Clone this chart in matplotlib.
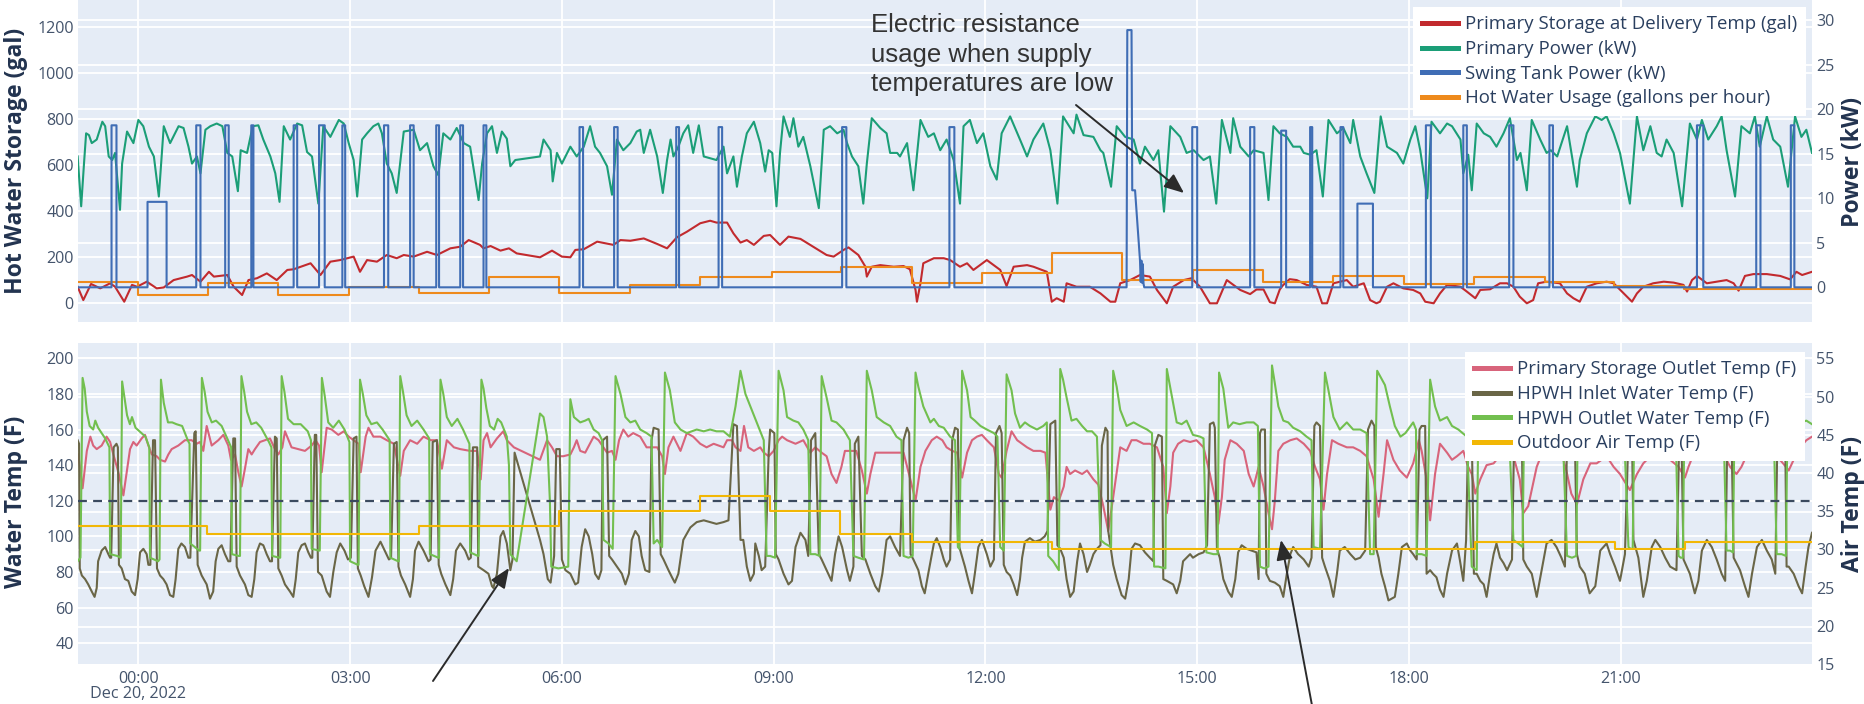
import matplotlib
matplotlib.use("Agg")
import matplotlib.pyplot as plt
from matplotlib.lines import Line2D
from matplotlib.patches import FancyArrowPatch

# ------------------------------------------------------------------
# Data: time in hours relative to 00:00, Dec 20 2022
# ------------------------------------------------------------------

# Primary storage volume at delivery temperature (gal)
storage_gal = [
    (-0.86, 72), (-0.78, 14), (-0.67, 84), (-0.54, 65), (-0.40, 87), (-0.33, 72), (-0.20, 7), (-0.09, 80),
    (-0.02, 72), (0.12, 94), (0.26, 65), (0.36, 69), (0.50, 101), (0.69, 116), (0.76, 123), (0.88, 94),
    (1.00, 137), (1.07, 116), (1.26, 123), (1.35, 72), (1.47, 36), (1.56, 101), (1.68, 109), (1.82, 130),
    (1.96, 101), (2.11, 145), (2.20, 148), (2.44, 174), (2.58, 123), (2.72, 181), (2.86, 188), (2.96, 196),
    (3.05, 203), (3.14, 137), (3.24, 188), (3.38, 181), (3.52, 210), (3.66, 196), (3.76, 210), (3.90, 203),
    (4.09, 224), (4.23, 210), (4.42, 239), (4.56, 246), (4.68, 275), (4.84, 254), (4.89, 239), (4.99, 249),
    (5.13, 229), (5.25, 239), (5.36, 217), (5.69, 200), (5.86, 229), (6.00, 203), (6.12, 200), (6.19, 232),
    (6.31, 235), (6.50, 268), (6.73, 254), (6.83, 275), (6.97, 272), (7.16, 282), (7.35, 258), (7.49, 239),
    (7.63, 287), (7.77, 311), (7.96, 348), (8.10, 359), (8.19, 351), (8.34, 351), (8.43, 304), (8.53, 264),
    (8.62, 275), (8.72, 254), (8.86, 293), (8.95, 297), (9.09, 254), (9.21, 290), (9.38, 280), (9.56, 246),
    (9.75, 210), (9.85, 203), (9.99, 232), (10.06, 243), (10.20, 210), (10.30, 159), (10.32, 116), (10.39, 159),
    (10.51, 166), (10.70, 159), (10.84, 162), (10.93, 148), (11.01, 58), (11.03, 7), (11.08, 87), (11.12, 174),
    (11.27, 196), (11.41, 196), (11.50, 188), (11.64, 159), (11.74, 174), (11.83, 145), (12.02, 188), (12.21, 145),
    (12.30, 75), (12.40, 159), (12.59, 166), (12.68, 159), (12.87, 137), (12.94, 7), (13.01, 22), (13.11, 7),
    (13.15, 87), (13.29, 72), (13.48, 72), (13.63, 43), (13.77, 7), (13.84, 7), (13.91, 87), (14.05, 101),
    (14.19, 123), (14.33, 116), (14.43, 58), (14.57, 0), (14.66, 72), (14.81, 101), (14.92, 109), (15.04, 72),
    (15.18, 0), (15.28, 0), (15.42, 101), (15.61, 58), (15.75, 40), (15.84, 60), (15.94, 60), (16.03, 5),
    (16.10, 0), (16.17, 60), (16.22, 80), (16.31, 105), (16.41, 101), (16.55, 80), (16.69, 72), (16.77, 0),
    (16.84, 0), (16.93, 87), (17.12, 101), (17.21, 72), (17.36, 87), (17.45, 14), (17.54, 0), (17.59, 7),
    (17.69, 72), (17.78, 87), (17.92, 65), (18.06, 58), (18.16, 43), (18.23, 7), (18.35, 0), (18.44, 43),
    (18.54, 80), (18.73, 72), (18.82, 51), (18.94, 22), (19.01, 58), (19.15, 61), (19.29, 87), (19.39, 87),
    (19.48, 72), (19.57, 29), (19.67, 0), (19.76, 14), (19.83, 87), (19.95, 94), (20.14, 87), (20.24, 43),
    (20.33, 22), (20.42, 7), (20.52, 72), (20.66, 87), (20.80, 94), (20.90, 87), (21.09, 29), (21.16, 7),
    (21.23, 43), (21.32, 72), (21.46, 87), (21.61, 94), (21.75, 90), (21.89, 80), (21.94, 51), (22.01, 101),
    (22.08, 119), (22.22, 87), (22.36, 94), (22.50, 101), (22.60, 87), (22.67, 55), (22.76, 119), (22.88, 127),
    (23.07, 127), (23.26, 119), (23.40, 104), (23.49, 137), (23.57, 123), (23.71, 137),
]

# Primary heat pump power (kW)
primary_kw = [
    (-0.86, 14.7), (-0.81, 9.1), (-0.77, 13.9), (-0.74, 17.3), (-0.70, 17.1), (-0.66, 16.2), (-0.59, 16.6),
    (-0.51, 18.6), (-0.47, 18.1), (-0.42, 14.7), (-0.37, 14.3), (-0.33, 15.1), (-0.26, 8.7), (-0.23, 13.9),
    (-0.16, 17.5), (-0.07, 16.2), (0.00, 18.8), (0.07, 18.1), (0.15, 15.8), (0.22, 14.7), (0.29, 10.2),
    (0.36, 18.1), (0.45, 16.2), (0.57, 18.1), (0.64, 17.9), (0.71, 15.8), (0.76, 13.9), (0.83, 14.7),
    (0.88, 12.8), (0.95, 17.7), (1.02, 18.1), (1.11, 18.4), (1.19, 18.1), (1.26, 15.1), (1.33, 14.7),
    (1.41, 10.8), (1.45, 15.4), (1.54, 15.1), (1.62, 18.1), (1.70, 18.2), (1.77, 16.6), (1.87, 14.7),
    (1.94, 12.8), (2.00, 9.6), (2.06, 18.1), (2.15, 16.6), (2.25, 18.4), (2.32, 18.2), (2.39, 15.2),
    (2.46, 14.7), (2.55, 9.4), (2.62, 18.1), (2.72, 16.9), (2.84, 18.8), (2.91, 18.4), (2.98, 16.2),
    (3.05, 14.3), (3.10, 10.2), (3.17, 16.6), (3.24, 17.3), (3.33, 18.1), (3.40, 18.4), (3.45, 17.3),
    (3.52, 13.9), (3.59, 12.8), (3.66, 10.6), (3.76, 17.5), (3.90, 17.7), (3.99, 15.4), (4.09, 16.2),
    (4.18, 13.6), (4.25, 12.6), (4.32, 17.3), (4.42, 16.6), (4.51, 17.9), (4.61, 16.2), (4.70, 15.8),
    (4.82, 9.8), (4.87, 13.9), (4.94, 17.3), (5.01, 18.1), (5.08, 15.1), (5.15, 17.5), (5.22, 16.7),
    (5.27, 13.6), (5.34, 14.3), (5.69, 14.7), (5.74, 16.6), (5.84, 15.4), (5.87, 11.9), (5.93, 15.1),
    (6.00, 13.9), (6.12, 15.8), (6.21, 14.7), (6.31, 15.8), (6.40, 18.1), (6.47, 15.8), (6.54, 15.1),
    (6.64, 13.6), (6.71, 10.4), (6.78, 16.6), (6.87, 15.4), (6.97, 16.2), (7.06, 17.5), (7.11, 17.7),
    (7.16, 15.1), (7.25, 17.7), (7.35, 14.7), (7.43, 10.6), (7.49, 14.3), (7.54, 16.6), (7.58, 14.7),
    (7.65, 15.8), (7.72, 17.3), (7.79, 18.2), (7.86, 15.1), (7.94, 18.2), (8.01, 14.7), (8.19, 14.3),
    (8.29, 15.8), (8.34, 12.8), (8.43, 14.7), (8.48, 11.3), (8.55, 14.7), (8.62, 17.3), (8.72, 18.6),
    (8.81, 16.2), (8.88, 13.0), (8.93, 15.4), (8.98, 15.1), (9.04, 9.1), (9.09, 15.1), (9.14, 19.2),
    (9.23, 16.9), (9.28, 19.0), (9.35, 15.8), (9.42, 16.9), (9.52, 13.6), (9.64, 8.9), (9.71, 17.7),
    (9.80, 18.1), (9.90, 17.3), (9.99, 17.7), (10.04, 16.2), (10.11, 14.7), (10.20, 13.6), (10.27, 9.4),
    (10.32, 13.9), (10.39, 19.0), (10.51, 17.9), (10.60, 17.3), (10.65, 15.1), (10.75, 15.1), (10.79, 14.7),
    (10.89, 16.2), (10.98, 10.9), (11.08, 18.8), (11.19, 16.9), (11.27, 17.3), (11.36, 15.4), (11.45, 16.6),
    (11.55, 14.3), (11.64, 9.4), (11.69, 18.1), (11.78, 18.8), (11.88, 16.2), (11.97, 17.3), (12.07, 13.6),
    (12.16, 12.1), (12.23, 17.3), (12.35, 19.2), (12.49, 16.6), (12.59, 14.7), (12.68, 16.6), (12.82, 18.4),
    (12.92, 15.4), (13.02, 9.4), (13.10, 19.2), (13.25, 17.3), (13.29, 19.4), (13.39, 17.1), (13.53, 16.9),
    (13.63, 15.4), (13.67, 15.1), (13.78, 11.3), (13.86, 18.1), (13.98, 16.9), (14.10, 16.6), (14.19, 13.9),
    (14.26, 15.8), (14.38, 14.3), (14.45, 15.4), (14.53, 8.5), (14.62, 18.1), (14.76, 16.9), (14.85, 15.1),
    (14.95, 15.4), (15.09, 14.3), (15.18, 14.7), (15.27, 9.4), (15.35, 18.8), (15.47, 15.1), (15.51, 19.0),
    (15.61, 15.8), (15.73, 14.7), (15.80, 15.4), (15.94, 15.1), (16.01, 9.8), (16.08, 18.1), (16.17, 17.3),
    (16.27, 16.9), (16.36, 15.8), (16.46, 15.8), (16.51, 15.1), (16.60, 14.9), (16.69, 15.4), (16.78, 10.2),
    (16.86, 18.8), (16.98, 17.3), (17.07, 17.9), (17.17, 16.2), (17.21, 18.8), (17.31, 14.7), (17.40, 12.8),
    (17.51, 10.6), (17.60, 19.2), (17.69, 15.8), (17.83, 15.1), (17.92, 13.9), (18.02, 16.6), (18.09, 18.1),
    (18.16, 15.4), (18.26, 10.0), (18.32, 18.6), (18.44, 17.3), (18.54, 18.4), (18.61, 18.1), (18.73, 16.6),
    (18.77, 12.8), (18.84, 14.9), (18.89, 10.9), (18.96, 18.4), (19.06, 17.3), (19.15, 16.9), (19.24, 15.8),
    (19.34, 17.3), (19.43, 19.0), (19.53, 14.3), (19.58, 15.1), (19.67, 10.9), (19.74, 18.8), (19.86, 16.6),
    (19.95, 15.1), (20.01, 15.4), (20.10, 14.7), (20.24, 18.1), (20.38, 11.3), (20.42, 14.3), (20.52, 17.3),
    (20.64, 19.2), (20.73, 18.8), (20.80, 19.2), (20.90, 17.3), (20.99, 15.1), (21.13, 9.4), (21.23, 19.2),
    (21.32, 15.4), (21.42, 18.1), (21.51, 15.1), (21.58, 14.7), (21.65, 16.6), (21.75, 15.1), (21.87, 9.1),
    (21.98, 18.4), (22.08, 16.6), (22.15, 18.8), (22.24, 16.6), (22.36, 18.1), (22.43, 19.2), (22.50, 15.4),
    (22.62, 10.2), (22.71, 18.1), (22.83, 17.3), (22.90, 19.2), (22.97, 15.8), (23.07, 19.2), (23.16, 16.6),
    (23.26, 15.8), (23.37, 11.3), (23.47, 19.2), (23.56, 16.9), (23.63, 17.7), (23.71, 15.1),
]

# Swing tank element: start hour, end hour, power (kW)
swing_on = [-0.38, 0.13, 0.82, 1.23, 1.60, 2.20, 2.56, 2.89, 3.48, 3.85, 4.22, 4.56, 4.89, 6.25, 6.74,
            7.62, 8.22, 9.97, 11.49, 14.93, 15.75, 16.19, 16.60, 17.03, 17.27, 18.24, 18.77, 19.42,
            19.99, 22.08, 22.92, 23.41]
swing_off = [-0.31, 0.40, 0.88, 1.28, 1.63, 2.25, 2.64, 2.93, 3.54, 3.90, 4.26, 4.60, 4.93, 6.30, 6.79,
             7.66, 8.27, 10.03, 11.56, 15.00, 15.81, 16.26, 16.63, 17.07, 17.49, 18.31, 18.82, 19.48,
             20.04, 22.17, 22.98, 23.46]
swing_kw = [18.2, 9.6, 18.2, 18.2, 18.2, 18.2, 18.2, 18.2, 18.2, 18.2, 18.2, 18.2, 18.2, 18.0, 18.0,
            18.0, 18.0, 18.0, 18.0, 18.0, 18.0, 17.6, 18.0, 18.0, 9.4, 18.2, 18.2, 18.2,
            18.2, 18.2, 18.2, 18.2]
# Electric resistance burst near 14:00
resist_h = [14.00, 14.01, 14.07, 14.08, 14.12, 14.19, 14.20, 14.21, 14.22, 14.23, 14.24, 14.25]
resist_kw = [0.0, 28.9, 28.9, 10.9, 10.9, 3.0, 0.6, 3.0, 0.5, 2.6, 0.4, 0.0]

# Hot water usage (gallons per hour), hourly steps
usage_h = [-0.86, -0.01, 0.99, 1.98, 2.99, 3.97, 4.97, 5.96, 6.97, 7.96, 8.97, 9.96, 10.96, 11.95, 12.95,
           13.94, 14.94, 15.93, 16.93, 17.93, 18.92, 19.93, 20.90, 21.90, 22.95]
usage_gph = [94, 36, 87, 36, 72, 44, 116, 46, 80, 116, 137, 159, 87, 130, 217,
             101, 144, 94, 119, 84, 116, 94, 77, 61, 61]

# Primary storage outlet temperature (F)
storage_out_f = [
    (-0.85, 146), (-0.79, 127), (-0.73, 148), (-0.68, 156), (-0.64, 151), (-0.59, 149), (-0.52, 151),
    (-0.45, 156), (-0.40, 153), (-0.354, 146), (-0.283, 136), (-0.212, 123), (-0.165, 136), (-0.118, 149),
    (-0.071, 153), (-0.024, 151), (0.047, 155), (0.094, 157), (0.142, 151), (0.19, 146), (0.26, 145),
    (0.307, 143), (0.378, 142), (0.425, 146), (0.472, 149), (0.566, 151), (0.66, 154), (0.755, 154),
    (0.826, 152), (0.873, 153), (0.92, 148), (0.968, 162), (1.039, 151), (1.133, 154), (1.204, 157),
    (1.274, 151), (1.312, 143), (1.37, 146), (1.416, 136), (1.463, 128), (1.51, 138), (1.558, 149),
    (1.605, 146), (1.652, 149), (1.723, 153), (1.794, 154), (1.865, 155), (1.935, 149), (1.983, 146),
    (2.04, 150), (2.077, 159), (2.17, 150), (2.266, 149), (2.36, 148), (2.455, 151), (2.51, 154),
    (2.56, 151), (2.597, 136), (2.668, 161), (2.739, 160), (2.833, 157), (2.91, 159), (2.98, 156),
    (3.05, 154), (3.12, 152), (3.15, 136), (3.22, 156), (3.26, 161), (3.33, 156), (3.43, 156), (3.52, 154),
    (3.62, 152), (3.71, 134), (3.76, 148), (3.85, 154), (3.95, 152), (4.04, 156), (4.14, 154), (4.23, 154),
    (4.30, 138), (4.37, 154), (4.47, 150), (4.56, 149), (4.70, 148), (4.80, 148), (4.85, 132), (4.89, 154),
    (4.94, 158), (4.99, 150), (5.08, 155), (5.17, 159), (5.22, 154), (5.32, 150), (5.69, 143), (5.79, 154),
    (5.86, 150), (5.93, 145), (6.02, 145), (6.12, 146), (6.17, 150), (6.21, 154), (6.26, 148), (6.33, 147),
    (6.45, 156), (6.52, 154), (6.64, 147), (6.71, 148), (6.76, 143), (6.81, 154), (6.87, 160), (6.94, 156),
    (7.01, 158), (7.11, 156), (7.20, 150), (7.35, 150), (7.42, 145), (7.46, 135), (7.51, 150), (7.58, 156),
    (7.68, 148), (7.77, 158), (7.86, 156), (7.96, 152), (8.05, 150), (8.15, 152), (8.29, 150), (8.34, 154),
    (8.41, 154), (8.46, 150), (8.53, 148), (8.58, 162), (8.64, 150), (8.72, 148), (8.81, 150), (8.86, 147),
    (8.93, 145), (9.00, 148), (9.07, 154), (9.12, 156), (9.19, 154), (9.31, 152), (9.42, 154), (9.52, 147),
    (9.59, 150), (9.68, 147), (9.75, 145), (9.82, 135), (9.89, 130), (9.96, 139), (10.01, 148), (10.08, 148),
    (10.17, 148), (10.25, 137), (10.32, 124), (10.37, 135), (10.44, 147), (10.56, 147), (10.70, 147),
    (10.84, 147), (10.93, 133), (11.01, 120), (11.08, 139), (11.15, 148), (11.24, 154), (11.31, 156),
    (11.39, 154), (11.45, 150), (11.53, 148), (11.60, 147), (11.67, 133), (11.74, 147), (11.81, 154),
    (11.88, 156), (11.95, 157), (12.02, 154), (12.12, 150), (12.19, 135), (12.23, 133), (12.30, 148),
    (12.37, 159), (12.45, 154), (12.52, 152), (12.59, 150), (12.68, 148), (12.78, 148), (12.85, 147),
    (12.92, 115), (12.97, 122), (13.04, 120), (13.11, 128), (13.15, 139), (13.20, 135), (13.27, 137),
    (13.37, 135), (13.44, 137), (13.53, 132), (13.60, 129), (13.67, 117), (13.74, 103), (13.81, 122),
    (13.91, 150), (14.00, 148), (14.07, 154), (14.14, 154), (14.24, 152), (14.33, 152), (14.43, 150),
    (14.52, 139), (14.57, 113), (14.62, 128), (14.66, 147), (14.73, 152), (14.81, 154), (14.90, 153),
    (14.99, 154), (15.09, 150), (15.18, 135), (15.25, 122), (15.30, 107), (15.35, 122), (15.39, 143),
    (15.47, 154), (15.56, 152), (15.66, 148), (15.73, 135), (15.80, 128), (15.87, 139), (15.94, 128),
    (16.01, 113), (16.06, 104), (16.10, 120), (16.15, 148), (16.22, 152), (16.32, 154), (16.41, 155),
    (16.51, 152), (16.60, 148), (16.67, 139), (16.74, 132), (16.79, 115), (16.84, 135), (16.91, 154),
    (17.00, 152), (17.12, 150), (17.21, 150), (17.31, 148), (17.40, 145), (17.50, 132), (17.57, 111),
    (17.64, 135), (17.69, 154), (17.78, 143), (17.87, 137), (17.97, 133), (18.06, 141), (18.14, 154),
    (18.18, 148), (18.25, 132), (18.30, 109), (18.37, 135), (18.44, 152), (18.54, 147), (18.61, 143),
    (18.68, 145), (18.77, 148), (18.84, 139), (18.89, 135), (18.94, 124), (19.01, 132), (19.10, 140),
    (19.20, 141), (19.24, 143), (19.31, 145), (19.38, 147), (19.48, 145), (19.57, 132), (19.62, 113),
    (19.69, 117), (19.81, 139), (19.90, 148), (20.04, 150), (20.16, 147), (20.23, 137), (20.30, 124),
    (20.38, 118), (20.47, 132), (20.57, 141), (20.66, 141), (20.80, 145), (20.90, 139), (20.99, 135),
    (21.13, 126), (21.23, 135), (21.32, 141), (21.42, 145), (21.56, 146), (21.70, 143), (21.82, 139),
    (21.91, 133), (21.96, 139), (22.03, 146), (22.17, 148), (22.31, 150), (22.45, 147), (22.55, 139),
    (22.64, 135), (22.71, 139), (22.79, 146), (22.93, 150), (23.07, 148), (23.21, 145), (23.30, 141),
    (23.38, 137), (23.45, 143), (23.54, 150), (23.63, 154), (23.71, 156),
]

# HPWH inlet water temperature (F)
hpwh_in_f = [
    (-0.86, 154), (-0.84, 152), (-0.83, 82), (-0.80, 78), (-0.755, 76), (-0.71, 73), (-0.66, 69), (-0.62, 66),
    (-0.59, 71), (-0.57, 86), (-0.52, 92), (-0.47, 94), (-0.425, 90), (-0.40, 88), (-0.385, 88), (-0.35, 150),
    (-0.31, 152), (-0.29, 150), (-0.275, 84), (-0.236, 82), (-0.19, 76), (-0.142, 75), (-0.094, 69),
    (-0.047, 67), (-0.01, 76), (0.024, 91), (0.071, 93), (0.118, 90), (0.142, 84), (0.17, 84), (0.208, 154),
    (0.236, 154), (0.264, 82), (0.307, 78), (0.354, 76), (0.40, 73), (0.448, 67), (0.495, 66), (0.528, 76),
    (0.566, 93), (0.61, 96), (0.66, 94), (0.708, 88), (0.736, 88), (0.793, 158), (0.812, 159), (0.84, 84),
    (0.897, 78), (0.968, 73), (1.015, 65), (1.06, 69), (1.095, 86), (1.133, 93), (1.18, 95), (1.227, 90),
    (1.274, 86), (1.303, 86), (1.345, 155), (1.37, 155), (1.393, 83), (1.44, 78), (1.51, 73), (1.558, 67),
    (1.605, 66), (1.643, 76), (1.676, 91), (1.723, 96), (1.77, 95), (1.818, 90), (1.865, 86), (1.893, 86),
    (1.935, 156), (1.96, 155), (1.983, 82), (2.03, 78), (2.077, 73), (2.148, 69), (2.195, 66), (2.23, 76),
    (2.266, 91), (2.313, 95), (2.36, 96), (2.408, 91), (2.445, 88), (2.464, 88), (2.50, 157), (2.52, 157),
    (2.545, 80), (2.597, 78), (2.668, 69), (2.715, 66), (2.762, 80), (2.81, 91), (2.86, 96), (2.92, 92),
    (2.97, 87), (3.01, 88), (3.05, 155), (3.09, 156), (3.11, 82), (3.15, 78), (3.20, 72), (3.26, 66),
    (3.31, 77), (3.36, 92), (3.43, 97), (3.49, 92), (3.55, 87), (3.58, 88), (3.62, 152), (3.66, 153),
    (3.685, 83), (3.72, 78), (3.78, 73), (3.85, 66), (3.89, 76), (3.92, 92), (3.97, 97), (4.04, 92),
    (4.11, 86), (4.14, 87), (4.17, 153), (4.23, 154), (4.255, 84), (4.29, 79), (4.35, 73), (4.42, 67),
    (4.46, 76), (4.50, 92), (4.56, 96), (4.63, 92), (4.68, 87), (4.71, 88), (4.74, 150), (4.80, 150),
    (4.815, 83), (4.89, 81), (4.96, 79), (5.01, 72), (5.03, 71), (5.08, 79), (5.13, 100), (5.17, 103),
    (5.22, 96), (5.27, 81), (5.30, 87), (5.33, 147), (5.69, 98), (5.74, 90), (5.80, 76), (5.84, 74),
    (5.89, 89), (5.92, 149), (5.97, 149), (6.00, 87), (6.05, 81), (6.12, 79), (6.19, 73), (6.23, 74),
    (6.28, 94), (6.33, 104), (6.38, 100), (6.43, 90), (6.47, 79), (6.52, 76), (6.56, 81), (6.58, 154),
    (6.64, 156), (6.67, 89), (6.71, 87), (6.78, 83), (6.85, 79), (6.90, 73), (6.95, 79), (6.99, 98),
    (7.04, 103), (7.09, 100), (7.13, 89), (7.18, 81), (7.24, 80), (7.27, 154), (7.30, 161), (7.37, 160),
    (7.40, 90), (7.44, 87), (7.51, 81), (7.56, 77), (7.60, 74), (7.65, 79), (7.72, 98), (7.82, 105),
    (7.91, 108), (8.01, 109), (8.10, 108), (8.19, 107), (8.29, 108), (8.36, 109), (8.40, 140), (8.43, 163),
    (8.48, 162), (8.53, 98), (8.57, 98), (8.62, 83), (8.67, 75), (8.72, 79), (8.74, 96), (8.79, 89),
    (8.83, 81), (8.88, 83), (8.93, 147), (8.95, 160), (9.01, 158), (9.03, 90), (9.07, 87), (9.14, 79),
    (9.21, 73), (9.26, 75), (9.31, 94), (9.38, 102), (9.45, 98), (9.49, 89), (9.53, 154), (9.59, 158),
    (9.64, 90), (9.68, 87), (9.75, 81), (9.82, 75), (9.87, 90), (9.92, 100), (9.97, 94), (10.04, 81),
    (10.08, 75), (10.13, 83), (10.15, 152), (10.20, 156), (10.25, 89), (10.30, 87), (10.37, 79), (10.44, 72),
    (10.49, 69), (10.54, 79), (10.60, 98), (10.65, 100), (10.72, 94), (10.79, 89), (10.84, 154), (10.89, 161),
    (10.92, 158), (10.94, 90), (10.98, 87), (11.05, 81), (11.10, 72), (11.14, 68), (11.19, 79), (11.27, 96),
    (11.31, 99), (11.36, 94), (11.41, 87), (11.45, 83), (11.50, 87), (11.53, 154), (11.57, 161), (11.61, 160),
    (11.63, 94), (11.71, 83), (11.76, 75), (11.81, 68), (11.85, 79), (11.90, 94), (11.95, 98), (12.02, 90),
    (12.07, 83), (12.12, 87), (12.15, 158), (12.20, 162), (12.23, 158), (12.26, 84), (12.30, 80), (12.35, 78),
    (12.40, 73), (12.45, 67), (12.49, 76), (12.52, 88), (12.56, 97), (12.63, 99), (12.70, 97), (12.78, 98),
    (12.84, 100), (12.88, 103), (12.92, 163), (12.99, 165), (13.02, 95), (13.06, 93), (13.11, 88), (13.15, 76),
    (13.20, 66), (13.25, 69), (13.30, 86), (13.34, 96), (13.39, 90), (13.44, 80), (13.48, 84), (13.53, 90),
    (13.58, 93), (13.63, 95), (13.65, 151), (13.70, 161), (13.73, 159), (13.74, 103), (13.77, 95), (13.81, 84),
    (13.86, 76), (13.93, 67), (13.98, 65), (14.03, 76), (14.07, 93), (14.12, 96), (14.19, 95), (14.26, 91),
    (14.33, 88), (14.38, 86), (14.40, 151), (14.45, 157), (14.50, 156), (14.52, 76), (14.57, 75), (14.66, 73),
    (14.71, 68), (14.76, 75), (14.80, 86), (14.85, 88), (14.90, 90), (14.94, 88), (15.02, 90), (15.09, 91),
    (15.14, 95), (15.18, 163), (15.23, 164), (15.25, 161), (15.28, 93), (15.32, 88), (15.37, 76), (15.44, 69),
    (15.49, 66), (15.54, 76), (15.58, 91), (15.63, 95), (15.70, 93), (15.77, 92), (15.84, 91), (15.87, 76),
    (15.89, 158), (15.91, 160), (15.96, 160), (15.98, 79), (16.03, 75), (16.10, 74), (16.17, 72), (16.22, 66),
    (16.27, 79), (16.32, 90), (16.36, 94), (16.43, 90), (16.51, 87), (16.58, 83), (16.62, 88), (16.66, 162),
    (16.69, 164), (16.74, 162), (16.77, 88), (16.81, 83), (16.88, 75), (16.93, 66), (16.98, 79), (17.02, 92),
    (17.09, 94), (17.17, 90), (17.24, 87), (17.31, 88), (17.38, 92), (17.42, 160), (17.47, 165), (17.51, 162),
    (17.53, 94), (17.57, 88), (17.61, 79), (17.66, 72), (17.71, 64), (17.80, 66), (17.85, 79), (17.90, 94),
    (17.97, 96), (18.02, 92), (18.06, 90), (18.11, 87), (18.15, 160), (18.18, 162), (18.23, 162), (18.25, 79),
    (18.30, 81), (18.34, 79), (18.39, 77), (18.44, 70), (18.49, 66), (18.54, 79), (18.61, 92), (18.68, 96),
    (18.72, 87), (18.77, 75), (18.81, 98), (18.84, 160), (18.89, 158), (18.92, 79), (18.96, 79), (19.01, 75),
    (19.06, 73), (19.10, 66), (19.15, 79), (19.20, 90), (19.24, 96), (19.29, 88), (19.34, 85), (19.39, 81),
    (19.46, 87), (19.49, 155), (19.55, 157), (19.60, 155), (19.62, 87), (19.67, 83), (19.74, 79), (19.81, 66),
    (19.88, 81), (19.95, 96), (20.02, 98), (20.09, 94), (20.16, 88), (20.21, 83), (20.24, 155), (20.31, 157),
    (20.35, 156), (20.38, 90), (20.42, 83), (20.49, 79), (20.56, 68), (20.64, 72), (20.71, 92), (20.80, 96),
    (20.85, 90), (20.92, 83), (20.99, 75), (21.06, 90), (21.11, 158), (21.16, 158), (21.18, 98), (21.25, 88),
    (21.32, 66), (21.37, 75), (21.44, 94), (21.49, 98), (21.56, 94), (21.63, 88), (21.70, 83), (21.79, 81),
    (21.83, 156), (21.86, 157), (21.89, 87), (21.98, 79), (22.05, 68), (22.10, 75), (22.15, 92), (22.22, 98),
    (22.29, 94), (22.36, 87), (22.43, 79), (22.48, 75), (22.51, 155), (22.57, 157), (22.60, 88), (22.69, 81),
    (22.76, 72), (22.81, 66), (22.86, 79), (22.93, 94), (23.00, 98), (23.07, 92), (23.14, 87), (23.19, 79),
    (23.22, 156), (23.33, 158), (23.35, 83), (23.38, 83), (23.45, 79), (23.52, 72), (23.57, 68), (23.62, 83),
    (23.66, 94), (23.71, 102),
]

# HPWH outlet water temperature (F)
hpwh_out_f = [
    (-0.86, 86), (-0.82, 88), (-0.79, 189), (-0.76, 183), (-0.73, 170), (-0.69, 162), (-0.64, 160), (-0.61, 165),
    (-0.57, 161), (-0.47, 155), (-0.41, 150), (-0.40, 90), (-0.30, 89), (-0.25, 88), (-0.23, 187), (-0.20, 179),
    (-0.16, 168), (-0.12, 163), (-0.09, 167), (-0.04, 161), (0.10, 156), (0.155, 150), (0.165, 88), (0.28, 86),
    (0.30, 87), (0.32, 188), (0.36, 175), (0.42, 164), (0.48, 164), (0.54, 163), (0.62, 162), (0.70, 154),
    (0.725, 152), (0.735, 96), (0.80, 94), (0.86, 92), (0.875, 92), (0.90, 189), (0.94, 181), (0.98, 170),
    (1.04, 164), (1.10, 165), (1.18, 162), (1.28, 153), (1.315, 150), (1.325, 90), (1.42, 89), (1.44, 89),
    (1.46, 190), (1.50, 181), (1.54, 170), (1.60, 163), (1.67, 164), (1.74, 161), (1.85, 153), (1.885, 150),
    (1.895, 89), (2.00, 88), (2.01, 88), (2.03, 190), (2.07, 181), (2.12, 166), (2.20, 163), (2.30, 163),
    (2.40, 159), (2.445, 154), (2.455, 93), (2.56, 92), (2.57, 92), (2.60, 189), (2.64, 179), (2.69, 164),
    (2.76, 161), (2.84, 165), (2.92, 160), (2.99, 153), (3.00, 86), (3.11, 84), (3.12, 84), (3.14, 188),
    (3.18, 180), (3.23, 168), (3.30, 163), (3.38, 164), (3.46, 160), (3.56, 154), (3.57, 88), (3.68, 86),
    (3.69, 86), (3.71, 190), (3.75, 181), (3.80, 168), (3.87, 162), (3.95, 165), (4.04, 160), (4.12, 155),
    (4.13, 90), (4.25, 88), (4.26, 88), (4.28, 188), (4.32, 180), (4.37, 167), (4.44, 162), (4.52, 166),
    (4.60, 160), (4.69, 152), (4.70, 91), (4.81, 89), (4.82, 89), (4.86, 188), (4.89, 183), (4.93, 172),
    (4.98, 162), (5.04, 160), (5.09, 166), (5.14, 164), (5.22, 156), (5.25, 140), (5.27, 90), (5.36, 86),
    (5.69, 169), (5.74, 167), (5.79, 156), (5.83, 120), (5.85, 83), (5.95, 82), (6.09, 83), (6.12, 177),
    (6.17, 167), (6.26, 164), (6.33, 165), (6.38, 166), (6.45, 160), (6.52, 158), (6.57, 154), (6.59, 98),
    (6.66, 96), (6.72, 93), (6.76, 190), (6.83, 180), (6.90, 167), (6.97, 164), (7.04, 165), (7.11, 160),
    (7.20, 158), (7.27, 156), (7.30, 96), (7.35, 98), (7.42, 94), (7.46, 192), (7.53, 182), (7.60, 164),
    (7.68, 160), (7.77, 158), (7.91, 160), (8.01, 159), (8.10, 160), (8.19, 159), (8.29, 159), (8.38, 156),
    (8.46, 173), (8.53, 193), (8.60, 180), (8.67, 173), (8.76, 164), (8.86, 154), (8.90, 89), (8.95, 89),
    (9.02, 88), (9.07, 193), (9.14, 182), (9.19, 167), (9.28, 165), (9.35, 164), (9.42, 160), (9.49, 154),
    (9.52, 90), (9.59, 90), (9.65, 89), (9.68, 190), (9.75, 178), (9.82, 165), (9.89, 164), (9.99, 160),
    (10.08, 154), (10.13, 89), (10.20, 88), (10.28, 87), (10.32, 193), (10.39, 182), (10.46, 167), (10.56, 164),
    (10.65, 162), (10.74, 156), (10.81, 154), (10.84, 89), (10.91, 88), (10.97, 89), (11.01, 192), (11.05, 184),
    (11.12, 173), (11.22, 164), (11.27, 166), (11.34, 162), (11.41, 161), (11.50, 156), (11.57, 154), (11.61, 94),
    (11.63, 93), (11.67, 193), (11.74, 182), (11.79, 167), (11.85, 165), (11.93, 162), (12.02, 160), (12.12, 158),
    (12.17, 156), (12.21, 94), (12.26, 92), (12.30, 191), (12.37, 182), (12.42, 169), (12.49, 161), (12.56, 164),
    (12.63, 162), (12.73, 160), (12.82, 162), (12.87, 164), (12.89, 89), (12.96, 86), (13.04, 81), (13.06, 194),
    (13.10, 188), (13.15, 178), (13.22, 165), (13.29, 166), (13.37, 162), (13.44, 159), (13.51, 159), (13.58, 156),
    (13.63, 98), (13.69, 96), (13.78, 94), (13.81, 193), (13.86, 184), (13.91, 171), (14.00, 162), (14.10, 164),
    (14.19, 162), (14.29, 160), (14.36, 158), (14.39, 83), (14.45, 83), (14.55, 82), (14.57, 194), (14.64, 179),
    (14.71, 164), (14.78, 163), (14.85, 165), (14.94, 157), (15.04, 156), (15.09, 155), (15.13, 91), (15.23, 90),
    (15.29, 90), (15.31, 192), (15.37, 183), (15.44, 161), (15.51, 164), (15.60, 163), (15.70, 164), (15.80, 164),
    (15.86, 162), (15.89, 83), (15.95, 82), (16.01, 83), (16.06, 196), (16.10, 186), (16.15, 173), (16.22, 165),
    (16.29, 164), (16.36, 161), (16.46, 159), (16.55, 156), (16.62, 154), (16.65, 94), (16.74, 93), (16.81, 192),
    (16.86, 182), (16.93, 167), (17.02, 160), (17.12, 164), (17.21, 160), (17.31, 160), (17.40, 158), (17.45, 90),
    (17.50, 90), (17.55, 193), (17.66, 185), (17.73, 173), (17.80, 162), (17.88, 156), (17.95, 158), (18.06, 164),
    (18.10, 160), (18.11, 90), (18.18, 90), (18.25, 89), (18.30, 188), (18.37, 173), (18.44, 165), (18.54, 167),
    (18.61, 162), (18.70, 160), (18.82, 156), (18.89, 83), (18.96, 81), (18.99, 190), (19.03, 182), (19.08, 168),
    (19.15, 163), (19.22, 165), (19.32, 160), (19.42, 157), (19.48, 98), (19.55, 96), (19.61, 94), (19.64, 191),
    (19.68, 181), (19.74, 167), (19.82, 163), (19.92, 165), (20.05, 160), (20.18, 156), (20.24, 89), (20.31, 88),
    (20.37, 89), (20.40, 192), (20.45, 180), (20.52, 166), (20.62, 163), (20.75, 164), (20.90, 160), (21.05, 156),
    (21.11, 94), (21.14, 93), (21.17, 93), (21.20, 190), (21.25, 180), (21.32, 167), (21.42, 162), (21.55, 165),
    (21.68, 159), (21.78, 156), (21.82, 89), (21.85, 88), (21.88, 88), (21.91, 191), (21.96, 181), (22.03, 167),
    (22.12, 163), (22.25, 164), (22.38, 159), (22.46, 156), (22.50, 92), (22.55, 92), (22.59, 91), (22.62, 190),
    (22.67, 180), (22.74, 166), (22.84, 162), (22.96, 165), (23.08, 160), (23.17, 156), (23.21, 90), (23.28, 90),
    (23.34, 89), (23.37, 189), (23.42, 180), (23.49, 168), (23.56, 164), (23.63, 165), (23.71, 163),
]

# Outdoor air temperature (F), hourly steps
air_h = [-0.86, 0.97, 3.97, 5.96, 7.96, 8.95, 9.94, 10.96, 12.94, 18.94, 20.92, 21.91]
air_f = [33, 32, 33, 35, 37, 35, 32, 31, 30, 31, 30, 31]

delivery_setpoint_f = 120

hour_ticks = [0, 3, 6, 9, 12, 15, 18, 21]
hour_labels = ["00:00\nDec 20, 2022", "03:00", "06:00", "09:00", "12:00", "15:00", "18:00", "21:00"]

# ------------------------------------------------------------------
# Styling
# ------------------------------------------------------------------
plt.rcParams['font.family'] = ['Open Sans', 'DejaVu Sans']
BG = "#E5ECF6"
TICK_C = "#44546c"
TITLE_C = "#22334f"
LEG_C = "#2a3f5f"
C_RED, C_TEAL, C_BLUE, C_ORANGE = "#c22a2e", "#1b9e77", "#3f6db5", "#ee8a1c"
C_PINK, C_BROWN, C_LGREEN, C_YELLOW = "#d8647b", "#6a6647", "#72bf4f", "#f2b705"

W, H = 1865, 704
fig = plt.figure(figsize=(W / 100, H / 100), dpi=100)
fig.patch.set_facecolor("white")


def px_axes(left, top, right, bottom):
    return fig.add_axes([left / W, 1 - bottom / H, (right - left) / W, (bottom - top) / H])


X0, X1 = -0.855, 23.71
ax1 = px_axes(78, 0, 1812, 322)
ax2 = px_axes(78, 343, 1812, 664)
ax1b = ax1.twinx()
ax2b = ax2.twinx()

lims = {
    ax1: (-81.3, 1318.7), ax1b: (-3.90, 32.28),
    ax2: (28.3, 208.6), ax2b: (15.14, 57.0),
}
ticks = {
    ax1: list(range(0, 1201, 200)), ax1b: list(range(0, 31, 5)),
    ax2: list(range(40, 201, 20)), ax2b: list(range(15, 56, 5)),
}

for ax in (ax1, ax2):
    ax.set_facecolor(BG)
for ax in (ax1, ax1b, ax2, ax2b):
    ax.set_xlim(X0, X1)
    ax.set_ylim(*lims[ax])
    ax.set_yticks(ticks[ax])
    for s in ax.spines.values():
        s.set_visible(False)
    ax.tick_params(axis="both", length=0, labelsize=11.6, labelcolor=TICK_C, pad=3)
for axb in (ax1b, ax2b):
    axb.patch.set_visible(False)
    axb.tick_params(axis="y", pad=3)


def draw_grid(ax, axb):
    for x in hour_ticks:
        ax.axvline(x, color="white", lw=1.3, zorder=0.5)
    for y in ticks[ax]:
        ax.axhline(y, color="white", lw=1.3, zorder=0.5)
    (p0, p1), (t0, t1) = lims[ax], lims[axb]
    for t in ticks[axb]:
        ax.axhline(p0 + (t - t0) * (p1 - p0) / (t1 - t0), color="white", lw=1.3, zorder=0.5)


draw_grid(ax1, ax1b)
draw_grid(ax2, ax2b)

ax1.set_xticks(hour_ticks)
ax1.set_xticklabels([])
ax2.set_xticks(hour_ticks)
ax2.set_xticklabels(hour_labels)
ax2.tick_params(axis="x", pad=5)
for lab in ax2.get_xticklabels():
    lab.set_linespacing(0.95)

LW = 1.5
# Top panel
t, v = zip(*storage_gal)
ax1.plot(t, v, color=C_RED, lw=LW, zorder=2)
ax1.plot(usage_h + [X1], usage_gph + [usage_gph[-1]], color=C_ORANGE, lw=LW,
         drawstyle="steps-post", zorder=2)
t, v = zip(*primary_kw)
ax1b.plot(t, v, color=C_TEAL, lw=LW, zorder=2)

sx, sy = [X0], [0.0]
events = sorted(zip(swing_on, swing_off, swing_kw))
resist_done = False
for on, off, kw in events:
    if not resist_done and on > resist_h[0]:
        sx += resist_h
        sy += resist_kw
        resist_done = True
    sx += [on, on, off, off]
    sy += [0.0, kw, kw, 0.0]
sx.append(X1)
sy.append(0.0)
ax1b.plot(sx, sy, color=C_BLUE, lw=LW, zorder=3)

# Bottom panel
t, v = zip(*storage_out_f)
ax2.plot(t, v, color=C_PINK, lw=LW, zorder=2)
t, v = zip(*hpwh_in_f)
ax2.plot(t, v, color=C_BROWN, lw=LW, zorder=2)
t, v = zip(*hpwh_out_f)
ax2.plot(t, v, color=C_LGREEN, lw=LW, zorder=2)
ax2.axhline(delivery_setpoint_f, color="#3b4a5f", lw=1.6, linestyle=(0, (4, 2.8)), zorder=2.5)
ax2b.plot(air_h + [X1], air_f + [air_f[-1]], color=C_YELLOW, lw=LW, drawstyle="steps-post", zorder=2)

# Axis titles
title_kw = dict(fontsize=16.6, fontweight="bold", color=TITLE_C, rotation=90, ha="center", va="center")
fig.text(16 / W, 1 - 161 / H, "Hot Water Storage (gal)", **title_kw)
fig.text(1853 / W, 1 - 162 / H, "Power (kW)", **title_kw)
fig.text(16 / W, 1 - 502 / H, "Water Temp (F)", **title_kw)
fig.text(1853 / W, 1 - 504 / H, "Air Temp (F)", **title_kw)


def legend(handles_spec, right, top):
    handles = [Line2D([], [], color=c, lw=3.6) for c, _ in handles_spec]
    labels = [lab for _, lab in handles_spec]
    lg = fig.legend(handles, labels, loc="upper right", bbox_to_anchor=(right / W, 1 - top / H),
                    bbox_transform=fig.transFigure, frameon=True, fancybox=False, framealpha=1,
                    facecolor="white", edgecolor="none", fontsize=13.4, handlelength=1.95,
                    handletextpad=0.4, labelspacing=0.36, borderpad=0.45, borderaxespad=0)
    for txt in lg.get_texts():
        txt.set_color(LEG_C)
    return lg


legend([(C_RED, "Primary Storage at Delivery Temp (gal)"), (C_TEAL, "Primary Power (kW)"),
        (C_BLUE, "Swing Tank Power (kW)"), (C_ORANGE, "Hot Water Usage (gallons per hour)")], 1806, 7)
legend([(C_PINK, "Primary Storage Outlet Temp (F)"), (C_BROWN, "HPWH Inlet Water Temp (F)"),
        (C_LGREEN, "HPWH Outlet Water Temp (F)"), (C_YELLOW, "Outdoor Air Temp (F)")], 1805, 352)

# Annotation
note_font = ["Liberation Sans", "DejaVu Sans"]
for line, base in zip(["Electric resistance", "usage when supply", "temperatures are low"], [32.3, 61.7, 90.7]):
    fig.text(871 / W, 1 - base / H, line, fontsize=18.5, family=note_font, color="#333333",
             ha="left", va="baseline")


def arrow(tail, head):
    fig.add_artist(FancyArrowPatch((tail[0] / W, 1 - tail[1] / H), (head[0] / W, 1 - head[1] / H),
                                   transform=fig.transFigure, arrowstyle="-|>,head_length=0.6,head_width=0.25",
                                   mutation_scale=20, lw=1.4, color="#2b2b2b", shrinkA=0, shrinkB=0,
                                   zorder=10))


arrow((1076, 105), (1184, 193))
arrow((433, 681), (509, 568))
arrow((1314, 716), (1281, 540))

fig.savefig("out.png", dpi=100, facecolor="white")
